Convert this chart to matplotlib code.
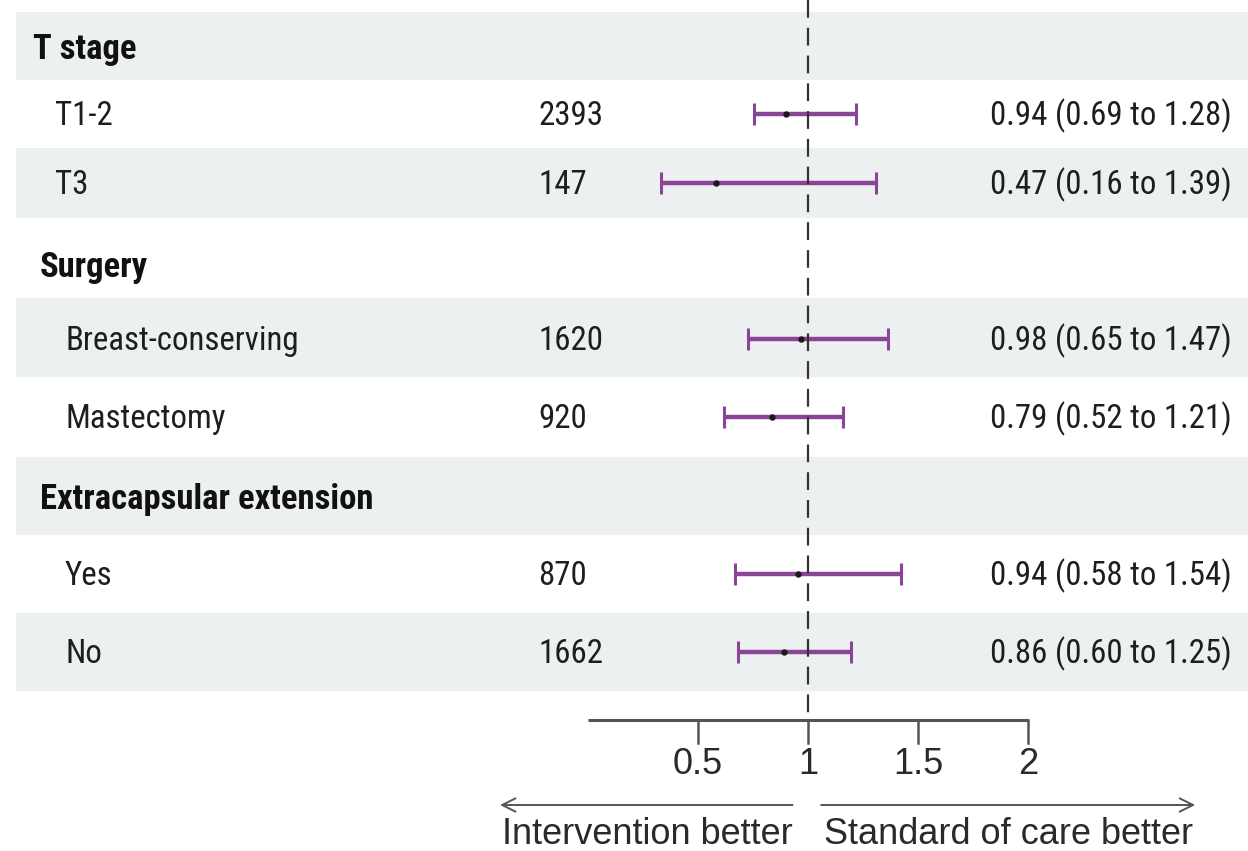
import matplotlib
matplotlib.use("Agg")
import matplotlib.pyplot as plt
from matplotlib import font_manager
import numpy as np

# ---------------- data ----------------
header_labels = ["T stage", "Surgery", "Extracapsular extension"]
sub_labels = ["T1-2", "T3", "Breast-conserving", "Mastectomy", "Yes", "No"]
sub_n = ["2393", "147", "1620", "920", "870", "1662"]
sub_hr_text = ["0.94 (0.69 to 1.28)", "0.47 (0.16 to 1.39)",
               "0.98 (0.65 to 1.47)", "0.79 (0.52 to 1.21)",
               "0.94 (0.58 to 1.54)", "0.86 (0.60 to 1.25)"]
# positions as drawn in the picture
sub_est = [0.90, 0.58, 0.97, 0.835, 0.956, 0.891]
sub_lo = [0.755, 0.332, 0.726, 0.620, 0.668, 0.683]
sub_hi = [1.218, 1.309, 1.365, 1.160, 1.423, 1.194]
tick_values = [0.5, 1, 1.5, 2]
tick_labels = ["0.5", "1", "1.5", "2"]
left_note = "Intervention better"
right_note = "Standard of care better"

# ---------------- layout ----------------
W, H = 1248, 851
header_y = [47, 266, 498]
header_x = [33, 40, 40]
sub_y = [114, 183, 339, 417, 574, 652]
sub_x = [55, 55, 65, 65, 65, 65]
n_x = 538
hr_x = 1232
bands = [(12, 80), (148, 218), (298, 377), (457, 535), (613, 691)]
axis_y = 720
text_dy = 2

# pick a condensed family if one is installed
entries = font_manager.fontManager.ttflist
names = {f.name for f in entries}
tfam, tstretch = None, "normal"
for cand in ["Liberation Sans Narrow", "Roboto Condensed", "Open Sans Condensed",
             "Noto Sans Condensed", "Arial Narrow"]:
    if cand in names:
        tfam = cand
        break
if tfam is None:
    for f in entries:
        if f.name == "DejaVu Sans" and str(f.stretch) in ("condensed", "semi-condensed", "575", "600", "625") \
                and f.style == "normal":
            tfam, tstretch = "DejaVu Sans", "condensed"
            break
if tfam is None:
    tfam = "Liberation Sans" if "Liberation Sans" in names else "DejaVu Sans"
rfam = "Liberation Sans" if "Liberation Sans" in names else "DejaVu Sans"

fig = plt.figure(figsize=(W / 100, H / 100), dpi=100)
ax = fig.add_axes([0, 0, 1, 1])
x0px, ppu = 588, 220
ax.set_xlim(-x0px / ppu, (W - x0px) / ppu)
ax.set_ylim(H, 0)
ax.axis("off")

# size the table font so the estimate column is ~242 px wide
renderer = fig.canvas.get_renderer()
probe = ax.text(0, 0, sub_hr_text[0], family=tfam, fontstretch=tstretch, fontsize=20)
wpx = probe.get_window_extent(renderer).width
probe.remove()
tsize = min(20 * 242 / wpx, 27)

for (a, b) in bands:
    ax.axhspan(a, b, xmin=16 / W, xmax=1, color="#edf0f0", lw=0, zorder=0)

tr = ax.get_yaxis_transform()
txtc = "#1e1e1e"
for lab, y, x in zip(header_labels, header_y, header_x):
    ax.text(x / W, y + text_dy, lab, transform=tr, ha="left", va="center",
            family=tfam, fontstretch=tstretch, fontsize=tsize * 1.05,
            fontweight="bold", color="#111")
for lab, n, hr, y, x in zip(sub_labels, sub_n, sub_hr_text, sub_y, sub_x):
    kw = dict(transform=tr, va="center", family=tfam, fontstretch=tstretch,
              fontsize=tsize, color=txtc)
    ax.text(x / W, y + text_dy, lab, ha="left", **kw)
    ax.text(n_x / W, y + text_dy, n, ha="left", **kw)
    ax.text(hr_x / W, y + text_dy, hr, ha="right", **kw)

est = np.array(sub_est)
lo = np.array(sub_lo)
hi = np.array(sub_hi)
purple = "#8b4596"
ax.errorbar(est, sub_y, xerr=[est - lo, hi - est], fmt="none", ecolor=purple,
            elinewidth=3.2, capsize=8, capthick=2.2, zorder=2)
ax.plot([1, 1], [0, axis_y], color="#333333", lw=1.6,
        linestyle=(0, (8, 4.5)), zorder=3)
ax.plot(est, sub_y, "o", color="#1a1a1a", ms=3.6, zorder=4)

axc = "#555555"
ax.plot([0, 2], [axis_y, axis_y], color=axc, lw=2.2, solid_capstyle="butt")
for v, t in zip(tick_values, tick_labels):
    ax.plot([v, v], [axis_y, axis_y + 23], color=axc, lw=1.8)
    ax.text(v, 765, t, ha="center", va="center", family=rfam,
            fontsize=26, color="#2a2a2a")

ax.annotate("", xy=(-0.40, 805), xytext=(0.93, 805),
            arrowprops=dict(arrowstyle="->", color=axc, lw=1.4,
                            mutation_scale=24, shrinkA=0, shrinkB=0))
ax.annotate("", xy=(2.76, 805), xytext=(1.06, 805),
            arrowprops=dict(arrowstyle="->", color=axc, lw=1.4,
                            mutation_scale=24, shrinkA=0, shrinkB=0))
ax.text(0.268, 835, left_note, ha="center", va="center", family=rfam,
        fontsize=26, color="#2a2a2a")
ax.text(1.91, 835, right_note, ha="center", va="center", family=rfam,
        fontsize=26, color="#2a2a2a")

fig.savefig("out.png", dpi=100)
